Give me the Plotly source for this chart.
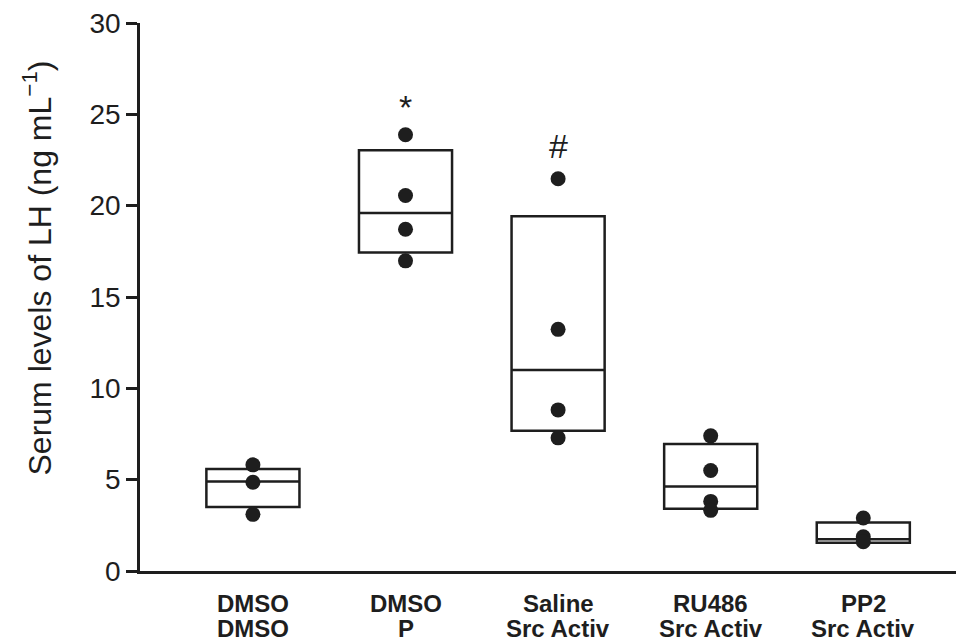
import plotly.graph_objects as go

# ---- data ----
line1 = ["DMSO", "DMSO", "Saline", "RU486", "PP2"]
line2 = ["DMSO", "P", "Src Activ", "Src Activ", "Src Activ"]
q1 = [3.50, 17.44, 7.68, 3.41, 1.54]
median = [4.90, 19.60, 11.00, 4.63, 1.74]
q3 = [5.59, 23.04, 19.42, 6.95, 2.65]
points = [
    [5.81, 4.86, 3.10],
    [23.88, 20.56, 18.71, 16.98],
    [21.47, 13.23, 8.82, 7.29],
    [7.40, 5.50, 3.81, 3.32],
    [2.90, 1.87, 1.60],
]
sig_marks = ["", "*", "#", "", ""]
sig_y = [None, 25.4, 23.25, None, None]
y_ticks = [0, 5, 10, 15, 20, 25, 30]
y_title = "Serum levels of LH (ng mL<sup>−1</sup>)"

FONT = "Liberation Sans, Arial, sans-serif"
INK = "#1e1e1e"
pos = list(range(len(line1)))

fig = go.Figure()
fig.add_trace(go.Box(
    x=pos, q1=q1, median=median, q3=q3,
    lowerfence=q1, upperfence=q3,
    width=0.61, whiskerwidth=0,
    fillcolor="white", line=dict(color=INK, width=2.5),
    boxpoints=False, hoverinfo="skip", showlegend=False,
))
px, py = [], []
for i, vals in enumerate(points):
    px += [i] * len(vals)
    py += vals
fig.add_trace(go.Scatter(
    x=px, y=py, mode="markers",
    marker=dict(color=INK, size=15, line=dict(width=0)),
    showlegend=False, hoverinfo="skip",
))

annotations = []
for i, (m, yv) in enumerate(zip(sig_marks, sig_y)):
    if m:
        annotations.append(dict(x=i, y=yv, xref="x", yref="y", text=m,
                                showarrow=False, yanchor="middle",
                                font=dict(family=FONT, size=34, color=INK)))
for i, (a, b) in enumerate(zip(line1, line2)):
    annotations.append(dict(x=i, y=0, xref="x", yref="paper", text=f"<b>{a}</b>",
                            showarrow=False, yanchor="top", yshift=-17,
                            font=dict(family=FONT, size=24, color=INK)))
    annotations.append(dict(x=i, y=0, xref="x", yref="paper", text=f"<b>{b}</b>",
                            showarrow=False, yanchor="top", yshift=-42,
                            font=dict(family=FONT, size=24, color=INK)))
annotations.append(dict(x=0, y=0.552, xref="paper", yref="paper", text=y_title,
                        textangle=-90, showarrow=False, xanchor="center",
                        yanchor="middle", xshift=-103,
                        font=dict(family=FONT, size=32, color=INK)))

# page body has an 8px margin: figure is 956x633 placed at (8, 8)
fig.update_layout(
    width=956, height=633,
    margin=dict(l=132, r=0, t=12, b=70),
    paper_bgcolor="white", plot_bgcolor="white",
    annotations=annotations,
    xaxis=dict(range=[-0.74, 4.66], showgrid=False, zeroline=False,
               showticklabels=False, ticks="", showline=True,
               linecolor=INK, linewidth=2.5),
    yaxis=dict(range=[0, 30], tickvals=y_ticks, showgrid=False, zeroline=False,
               ticks="outside", ticklen=11, tickwidth=2.5, tickcolor=INK,
               showline=True, linecolor=INK, linewidth=2.5,
               ticklabeloverflow="allow",
               tickfont=dict(family=FONT, size=28, color=INK)),
)

fig.write_html("out.html")
